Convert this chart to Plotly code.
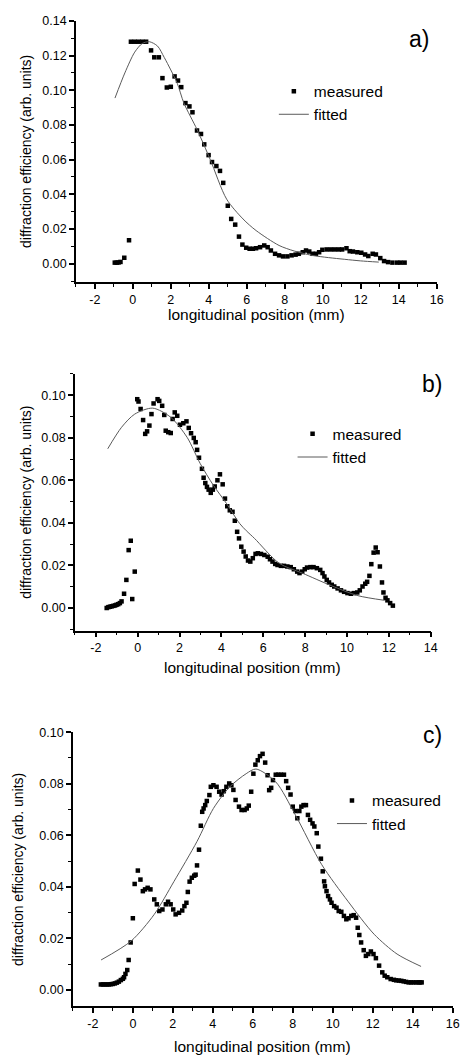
import plotly.graph_objects as go

# ---------------- data ----------------
# panel a
a_meas_x = [-0.95, -0.85, -0.75, -0.65, -0.45, -0.2,
            -0.1, 0.1, 0.3, 0.5, 0.7, 0.96, 1.13, 1.37, 1.56, 1.79, 2.0, 2.2, 2.38, 2.55, 2.77,
            2.98, 3.14, 3.38, 3.59, 3.76, 3.99, 4.17, 4.40, 4.59, 4.76, 5.0, 5.18, 5.39, 5.59,
            5.77, 5.97,
            6.15, 6.32, 6.49, 6.70, 6.92, 7.10, 7.27, 7.49, 7.70, 7.91, 8.14, 8.36, 8.57, 8.74,
            8.95, 9.12, 9.29, 9.46, 9.64, 9.81, 9.98, 10.21, 10.43, 10.64, 10.85, 11.02, 11.25,
            11.42, 11.59, 11.82, 12.03, 12.23, 12.40, 12.63, 12.80, 13.03, 13.23, 13.44, 13.67,
            13.92, 14.10, 14.31]
a_meas_y = [0.0006, 0.0006, 0.0007, 0.001, 0.0034, 0.0135,
            0.128, 0.128, 0.128, 0.128, 0.128, 0.123, 0.119, 0.119, 0.107, 0.1016, 0.102, 0.108,
            0.1056, 0.1018, 0.0926, 0.0907, 0.0873, 0.0768, 0.0748, 0.0688, 0.0626, 0.0586,
            0.0563, 0.0535, 0.0466, 0.0334, 0.0258, 0.0225, 0.0156, 0.011, 0.0092,
            0.0086, 0.0086, 0.0089, 0.0095, 0.0105, 0.0095, 0.0076, 0.0057, 0.0048, 0.0042,
            0.0042, 0.0048, 0.0052, 0.0057, 0.0066, 0.0076, 0.007, 0.0057, 0.0057, 0.0066,
            0.008, 0.0082, 0.0082, 0.0082, 0.0082, 0.0082, 0.0089, 0.0072, 0.007, 0.0066,
            0.0063, 0.0053, 0.0044, 0.0057, 0.0053, 0.0032, 0.0015, 0.0009, 0.0006, 0.0006,
            0.0006, 0.0006]
a_fit_x = [-0.94, -0.42, 0.1, 0.5, 0.87, 1.3, 1.65, 2.0, 2.34, 2.69, 3.38, 4.07, 4.94, 5.8,
           6.49, 7.7, 8.5, 9.43, 10.3, 11.16, 12.0, 12.95]
a_fit_y = [0.0955, 0.110, 0.122, 0.127, 0.128, 0.1255, 0.119, 0.1117, 0.104, 0.0926, 0.0774,
           0.0602, 0.0372, 0.0258, 0.0191, 0.0105, 0.0073, 0.0048, 0.0035, 0.0025, 0.0016,
           0.0009]

# panel b
b_meas_x = [-1.48, -1.40, -1.32, -1.24, -1.16, -1.08, -1.01, -0.93, -0.85, -0.77, -0.65,
            -0.54, -0.43, -0.33, -0.26, -0.14,
            -0.02, 0.04, 0.14, 0.26, 0.36, 0.45, 0.56, 0.66, 0.76, 0.95, 1.03, 1.17, 1.27,
            1.34, 1.46, 1.58, 1.67, 1.77, 1.89, 2.02, 2.18, 2.33, 2.44, 2.55, 2.68, 2.77,
            2.84, 2.93, 3.07, 3.15, 3.23, 3.31, 3.39, 3.49, 3.59, 3.68, 3.81, 3.93, 4.06,
            4.17, 4.28, 4.40, 4.53, 4.64, 4.75, 4.84, 4.95, 5.06, 5.16, 5.27, 5.38, 5.50, 5.63,
            5.74, 5.89, 6.05, 6.21, 6.32, 6.44, 6.57, 6.68, 6.84, 6.99, 7.15, 7.31, 7.46,
            7.62, 7.73, 7.86, 7.98, 8.09, 8.25, 8.40, 8.56, 8.72, 8.83, 8.92, 9.03, 9.14,
            9.27, 9.39, 9.55, 9.71, 9.86, 10.02, 10.18, 10.33, 10.49, 10.61, 10.74, 10.87,
            10.96, 11.07, 11.16, 11.27, 11.37, 11.46, 11.57, 11.67, 11.74, 11.84, 11.93,
            12.06, 12.19]
b_meas_y = [0.0, 0.0004, 0.0006, 0.0008, 0.001, 0.0012, 0.0015, 0.0018, 0.0023, 0.0031,
            0.0067, 0.0132, 0.0272, 0.0316, 0.0042, 0.0171,
            0.0981, 0.097, 0.0935, 0.0883, 0.0818, 0.083, 0.0857, 0.0911, 0.0961, 0.0981,
            0.0973, 0.095, 0.0907, 0.0833, 0.0826, 0.0822, 0.0888, 0.0919, 0.0903, 0.0861,
            0.0868, 0.0877, 0.0846, 0.0821, 0.0799, 0.0779, 0.0743, 0.0706, 0.0654, 0.0612,
            0.0587, 0.0569, 0.0556, 0.0541, 0.0556, 0.0571, 0.06, 0.0628, 0.0581, 0.0514,
            0.0478, 0.0459, 0.0452, 0.041, 0.0358, 0.0327, 0.0288, 0.0265, 0.0242, 0.0223,
            0.0218, 0.0234, 0.0254,
            0.0257, 0.0254, 0.0249, 0.0241, 0.0229, 0.0218, 0.0207, 0.0202, 0.0198, 0.0198,
            0.0195, 0.0192, 0.0182, 0.0171, 0.0164, 0.0171, 0.0182, 0.019, 0.0192, 0.0192,
            0.0187, 0.0179, 0.0164, 0.0148, 0.0132, 0.012, 0.0109, 0.0101, 0.0092, 0.0083,
            0.0076, 0.007, 0.0067, 0.007, 0.0073, 0.0083, 0.0101, 0.0114, 0.0123, 0.0151,
            0.0206, 0.026, 0.0284, 0.0262, 0.0195, 0.012, 0.0073, 0.0048, 0.0036, 0.0023,
            0.0011]
b_fit_x = [-1.43, -0.77, -0.14, 0.72, 1.58, 2.36, 2.99, 3.62, 4.25, 4.87, 5.19, 5.58, 6.76,
           7.86, 9.27, 10.52, 11.8]
b_fit_y = [0.0748, 0.0849, 0.0911, 0.0939, 0.0896, 0.0802, 0.0678, 0.0576, 0.049, 0.0397,
           0.0363, 0.0327, 0.021, 0.0164, 0.0104, 0.0058, 0.0036]

# panel c
c_meas_x = [-1.6, -1.5, -1.4, -1.3, -1.2, -1.1, -1.0, -0.9, -0.8, -0.7, -0.6, -0.5, -0.44,
            -0.37, -0.28, -0.21, -0.11, 0.0, 0.09, 0.25, 0.38, 0.50, 0.61, 0.74, 0.88,
            1.07, 1.2, 1.32, 1.48, 1.65, 1.76, 1.89, 2.02, 2.14, 2.31, 2.47, 2.58, 2.68, 2.75,
            2.84, 2.95, 3.07, 3.14, 3.21, 3.31, 3.40, 3.47, 3.54, 3.62, 3.70, 3.83, 3.90,
            4.03, 4.19, 4.32, 4.44, 4.55, 4.68, 4.82, 4.93, 5.03, 5.14, 5.31, 5.44, 5.59,
            5.70, 5.80, 5.92, 6.03, 6.13, 6.25, 6.36, 6.49, 6.62, 6.74, 6.82, 6.92,
            7.01, 7.15, 7.28, 7.41, 7.56, 7.67, 7.77, 7.89, 8.0, 8.13, 8.23, 8.33, 8.43, 8.54,
            8.66, 8.76, 8.87, 8.99, 9.08, 9.20, 9.28, 9.41, 9.50, 9.57, 9.61, 9.69, 9.77,
            9.86, 9.94, 10.07, 10.19, 10.30, 10.43, 10.56, 10.68, 10.79, 10.93, 11.05, 11.17,
            11.25, 11.33, 11.42, 11.55, 11.66, 11.78, 11.91, 12.04, 12.16, 12.32, 12.48,
            12.60, 12.73, 12.90, 13.06, 13.18, 13.31, 13.43, 13.55, 13.67, 13.80, 13.92,
            14.04, 14.17, 14.29, 14.37, 14.45]
c_meas_y = [0.0021, 0.0021, 0.0021, 0.0021, 0.0021, 0.0022, 0.0023, 0.0025, 0.0028, 0.0032,
            0.0038, 0.0043, 0.0049, 0.0062, 0.0077, 0.0116, 0.0184, 0.0278, 0.0411, 0.0463,
            0.0428, 0.0383, 0.039, 0.0396, 0.039,
            0.0351, 0.0332, 0.0306, 0.0312, 0.0332, 0.0342, 0.0332, 0.0312, 0.0293, 0.0299,
            0.0308, 0.0325, 0.0338, 0.038, 0.042, 0.0435, 0.0443, 0.0447, 0.0483, 0.0544,
            0.0637, 0.0691, 0.0704, 0.0717, 0.0733, 0.0756, 0.0788, 0.0794, 0.0788, 0.0769,
            0.0758, 0.0771, 0.0788, 0.0801, 0.0794, 0.0776, 0.0737, 0.0711, 0.0698, 0.0698,
            0.0704, 0.0715, 0.0769, 0.0839, 0.0874, 0.0891, 0.0907, 0.0916, 0.0882, 0.0833,
            0.0775, 0.0784,
            0.0814, 0.0835, 0.0835, 0.0835, 0.0835, 0.081, 0.0784, 0.0758, 0.0711, 0.0694,
            0.0666, 0.0694, 0.0711, 0.0717, 0.0717, 0.0679, 0.066, 0.0646, 0.0634, 0.0608,
            0.0556, 0.0509, 0.046, 0.0421, 0.0402, 0.0383, 0.0364, 0.0351, 0.0338, 0.0325,
            0.0319, 0.0306, 0.0303, 0.0287, 0.0274, 0.0278, 0.0287, 0.029, 0.028, 0.0241,
            0.0213, 0.0184, 0.0154, 0.0132, 0.0139, 0.0149, 0.0139, 0.0123, 0.0094, 0.0068,
            0.0055, 0.0049, 0.0042, 0.0039, 0.0037, 0.0036, 0.0035, 0.0033, 0.0031, 0.0029,
            0.0029, 0.0029, 0.0029, 0.0029, 0.0029, 0.0029]
c_fit_x = [-1.59, -0.08, 1.07, 2.06, 3.21, 4.03, 4.85, 5.67, 6.16, 7.15, 8.13, 9.45, 10.76,
           12.07, 13.22, 14.42]
c_fit_y = [0.0116, 0.019, 0.0293, 0.0421, 0.0576, 0.0704, 0.0788, 0.0839, 0.0857, 0.0807,
           0.0679, 0.0486, 0.0344, 0.0216, 0.0139, 0.0091]

# tick labels
x_tick_vals_a = [-2, 0, 2, 4, 6, 8, 10, 12, 14, 16]
x_tick_text_a = ["-2", "0", "2", "4", "6", "8", "10", "12", "14", "16"]
x_tick_vals_b = [-2, 0, 2, 4, 6, 8, 10, 12, 14]
x_tick_text_b = ["-2", "0", "2", "4", "6", "8", "10", "12", "14"]
panel_labels = ["a)", "b)", "c)"]
series_names = ["measured", "fitted"]
x_title = "longitudinal position (mm)"
y_title = "diffraction efficiency (arb. units)"

# ---------------- layout helpers ----------------
W, H = 469, 1061
FONT = "Liberation Sans, Arial, Helvetica, sans-serif"


def px_x(p):
    return p / W


def px_y(p):
    return 1 - p / H


panels = [
    dict(x0=77, x1=443.3, y0=14, y1=276.7, xr=[-3, 16], yr=[-0.0105, 0.14],
         tv=x_tick_vals_a, tt=x_tick_text_a, ytitle_x=27, label_x=413, label_y=32,
         leg_x=278, leg_y=68, xtitle_gap=33,
         mx=a_meas_x, my=a_meas_y, fx=a_fit_x, fy=a_fit_y),
    dict(x0=76, x1=437.3, y0=369.3, y1=627.7, xr=[-3, 14], yr=[-0.0106, 0.110],
         tv=x_tick_vals_b, tt=x_tick_text_b, ytitle_x=27, label_x=426, label_y=380,
         leg_x=297, leg_y=413, xtitle_gap=37,
         mx=b_meas_x, my=b_meas_y, fx=b_fit_x, fy=b_fit_y),
    dict(x0=74, x1=459.5, y0=730, y1=1006, xr=[-3, 16], yr=[-0.0064, 0.10],
         tv=x_tick_vals_a, tt=x_tick_text_a, ytitle_x=19, label_x=427, label_y=733,
         leg_x=337, leg_y=782, xtitle_gap=40,
         mx=c_meas_x, my=c_meas_y, fx=c_fit_x, fy=c_fit_y),
]

fig = go.Figure()
layout = dict(width=W, height=H, margin=dict(l=0, r=0, t=0, b=0),
              paper_bgcolor="white", plot_bgcolor="white",
              font=dict(family=FONT, color="black"), annotations=[])

for i, p in enumerate(panels):
    n = "" if i == 0 else str(i + 1)
    leg = "legend" if i == 0 else "legend" + str(i + 1)
    xa, ya = "x" + n, "y" + n
    fig.add_trace(go.Scatter(x=p["mx"], y=p["my"], mode="markers", name=series_names[0],
                             marker=dict(symbol="square", size=4.5, color="black"),
                             xaxis=xa, yaxis=ya, legend=leg, cliponaxis=False))
    fig.add_trace(go.Scatter(x=p["fx"], y=p["fy"], mode="lines", name=series_names[1],
                             line=dict(color="#5a5a5a", width=1, shape="spline", smoothing=0.8),
                             xaxis=xa, yaxis=ya, legend=leg))
    common = dict(showgrid=False, zeroline=False, showline=True, linecolor="black",
                  linewidth=1.5, ticks="outside", ticklen=5, tickwidth=1.5, tickcolor="black",
                  tickfont=dict(size=12.5, family=FONT, color="black"))
    layout["xaxis" + n] = dict(common, domain=[px_x(p["x0"]), px_x(p["x1"])], range=p["xr"],
                               anchor=ya, tickmode="array", tickvals=p["tv"], ticktext=p["tt"],
                               minor=dict(ticks="outside", ticklen=3, tickwidth=1.2,
                                          tickcolor="black", dtick=1, tick0=0))
    layout["yaxis" + n] = dict(common, domain=[px_y(p["y1"]), px_y(p["y0"])], range=p["yr"],
                               anchor=xa, tickformat=".2f", dtick=0.02, tick0=0,
                               minor=dict(ticks="outside", ticklen=3, tickwidth=1.2,
                                          tickcolor="black", dtick=0.01, tick0=0))
    layout[leg] = dict(x=px_x(p["leg_x"]), y=px_y(p["leg_y"]), xanchor="left", yanchor="top",
                       bgcolor="rgba(0,0,0,0)", borderwidth=0,
                       font=dict(size=15.5, family=FONT, color="black"), tracegroupgap=0)
    # axis titles
    layout["annotations"].append(dict(text=x_title, xref="paper", yref="paper",
                                      x=px_x((p["x0"] + p["x1"]) / 2),
                                      y=px_y(p["y1"] + p["xtitle_gap"]),
                                      showarrow=False, xanchor="center", yanchor="middle",
                                      font=dict(size=15.5, family=FONT, color="black")))
    layout["annotations"].append(dict(text=y_title, xref="paper", yref="paper", textangle=-90,
                                      x=px_x(p["ytitle_x"]), y=px_y((p["y0"] + p["y1"]) / 2),
                                      showarrow=False, xanchor="center", yanchor="middle",
                                      font=dict(size=14, family=FONT, color="black")))
    layout["annotations"].append(dict(text=panel_labels[i], xref="paper", yref="paper",
                                      x=px_x(p["label_x"]), y=px_y(p["label_y"]),
                                      showarrow=False, xanchor="left", yanchor="middle",
                                      font=dict(size=23, family=FONT, color="black")))

fig.update_layout(**layout)
fig.write_html("out.html", config={"displayModeBar": False},
               post_script="var d=document.getElementById('{plot_id}');"
                           "d.style.position='absolute';d.style.top='0px';d.style.left='0px';"
                           "document.body.style.margin='0px';"
                           "document.documentElement.style.overflow='hidden';")
